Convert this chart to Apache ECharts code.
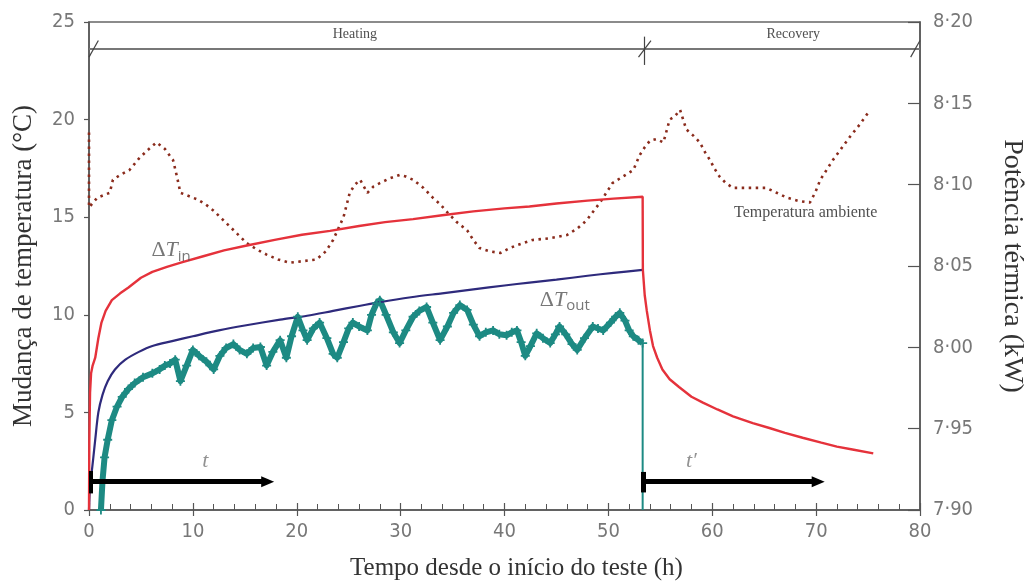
<!DOCTYPE html>
<html>
<head>
<meta charset="utf-8">
<script src="https://cdn.jsdelivr.net/npm/echarts@6/dist/echarts.min.js"></script>
<style>
html,body{margin:0;padding:0;background:#fff;}
#chart{width:1034px;height:587px;}
</style>
</head>
<body>
<div id="chart"></div>
<script>
// ---------- data ----------
const xTicks = [0, 10, 20, 30, 40, 50, 60, 70, 80];
const leftTicks = [0, 5, 10, 15, 20, 25];
const rightTickLabels = ['7·90', '7·95', '8·00', '8·05', '8·10', '8·15', '8·20'];

// ΔT_in (red), heating then recovery
const dTinTime = [0, 0.03, 0.1, 0.2, 0.35, 0.6, 0.9, 1.2, 1.6, 2.2, 3.0, 3.8, 5.0, 6.1, 7.5, 9.0, 11.0, 13.0, 15.2, 18.0, 20.5, 23.2, 26.0, 28.5, 31.2, 34.0, 37.0, 40.0, 42.4, 45.0, 48.0, 50.5, 53.3,
  53.32, 53.5, 53.7, 54.0, 54.3, 54.7, 55.2, 55.9, 56.8, 58.0, 59.1, 60.5, 62.0, 63.9, 65.5, 67.0, 68.7, 70.5, 72.0, 73.5, 75.5];
const dTinValue = [0, 3.5, 6.0, 7.0, 7.4, 7.8, 8.8, 9.6, 10.2, 10.75, 11.1, 11.4, 11.9, 12.2, 12.45, 12.7, 13.0, 13.3, 13.55, 13.85, 14.1, 14.3, 14.55, 14.75, 14.9, 15.1, 15.3, 15.45, 15.55, 15.7, 15.85, 15.95, 16.05,
  12.3, 11.0, 10.2, 9.2, 8.4, 7.8, 7.2, 6.7, 6.3, 5.8, 5.5, 5.15, 4.8, 4.45, 4.2, 3.95, 3.7, 3.45, 3.25, 3.1, 2.9];

// navy curve
const blueTime = [0, 0.1, 0.25, 0.4, 0.6, 0.9, 1.3, 1.8, 2.5, 3.5, 4.8, 6.1, 8.0, 10.0, 12.5, 15.0, 18.4, 21.0, 23.5, 26.0, 28.0, 31.0, 34.0, 37.0, 40.0, 42.4, 45.0, 48.0, 50.5, 53.3];
const blueValue = [0, 1.2, 1.9, 2.6, 3.6, 5.0, 5.9, 6.6, 7.2, 7.7, 8.1, 8.4, 8.65, 8.9, 9.2, 9.45, 9.75, 9.95, 10.2, 10.45, 10.65, 10.9, 11.1, 11.3, 11.5, 11.65, 11.8, 12.0, 12.15, 12.3];

// ΔT_out (teal)
const dToutTime = [1.15, 1.3, 1.5, 1.8, 2.2, 2.7, 3.2, 3.8, 4.4, 5.2, 6.1, 6.8, 7.3, 7.8, 8.3, 8.8, 9.4, 10.0, 10.6, 11.3, 12.0, 12.6, 13.2, 13.9, 14.5, 15.2, 15.8, 16.5, 17.1, 17.7, 18.4, 19.0, 19.5, 20.1, 20.6, 21.0, 21.6, 22.2, 22.9, 23.5, 23.9, 24.5, 25.0, 25.4, 26.0, 26.8, 27.2, 27.7, 28.0, 28.6, 29.3, 29.9, 30.5, 31.2, 31.8, 32.5, 33.1, 33.8, 34.5, 35.1, 35.7, 36.4, 37.0, 37.6, 38.2, 38.9, 39.5, 40.2, 40.7, 41.2, 41.6, 42.0, 42.5, 43.1, 43.7, 44.4, 44.9, 45.3, 45.9, 46.5, 47.0, 47.7, 48.5, 49.0, 49.5, 50.2, 50.7, 51.1, 51.6, 52.0, 52.4, 52.9, 53.3];
const dToutValue = [0, 1.5, 2.7, 3.6, 4.6, 5.3, 5.8, 6.2, 6.5, 6.8, 7.0, 7.2, 7.4, 7.5, 7.7, 6.6, 7.4, 8.2, 7.9, 7.6, 7.2, 7.9, 8.3, 8.5, 8.2, 8.0, 8.3, 8.35, 7.4, 8.1, 8.7, 7.8, 8.9, 9.9, 9.2, 8.7, 9.3, 9.6, 8.8, 8.0, 7.8, 8.6, 9.3, 9.6, 9.4, 9.2, 10.0, 10.6, 10.75, 10.0, 9.1, 8.55, 9.2, 9.9, 10.2, 10.4, 9.6, 8.7, 9.4, 10.1, 10.5, 10.25, 9.5, 8.9, 9.1, 9.2, 9.0, 8.95, 9.1, 9.2, 8.6, 7.9, 8.4, 9.05, 8.8, 8.55, 9.0, 9.4, 9.0, 8.5, 8.2, 8.8, 9.4, 9.3, 9.2, 9.6, 9.9, 10.1, 9.7, 9.2, 8.9, 8.7, 8.55];
const dToutDropTime = [53.3, 53.3];
const dToutDropValue = [8.55, 0];

// ambient temperature / thermal power (right axis, kW)
const ambTime = [0, 0, 0.8, 2.0, 2.3, 3.0, 3.9, 4.8, 5.6, 6.5, 7.3, 8.1, 8.5, 8.8, 9.6, 10.4, 11.2, 12.0, 12.8, 13.6, 14.4, 15.2, 16.2, 17.1, 18.2, 19.3, 20.6, 21.9, 22.8, 23.5, 24.0, 24.5, 25.1, 25.6, 26.1, 26.8, 27.4, 28.0, 29.0, 29.9, 30.5, 31.2, 32.2, 33.1, 33.8, 34.5, 35.4, 36.4, 37.0, 37.6, 38.6, 39.6, 40.5, 41.3, 42.7, 44.3, 46.0, 47.0, 47.9, 48.6, 49.2, 49.8, 50.4, 51.4, 52.4, 53.0, 53.5, 54.0, 54.6, 55.3, 55.9, 56.4, 56.9, 57.5, 58.2, 58.8, 59.3, 59.8, 60.2, 60.7, 61.3, 62.0, 63.5, 65.2, 66.2, 67.2, 68.3, 69.4, 69.9, 70.4, 71.0, 71.6, 72.4, 73.2, 74.2, 75.2];
const ambValue = [8.132, 8.086, 8.092, 8.095, 8.103, 8.106, 8.109, 8.116, 8.121, 8.126, 8.122, 8.115, 8.104, 8.095, 8.093, 8.091, 8.088, 8.084, 8.079, 8.074, 8.069, 8.064, 8.060, 8.057, 8.054, 8.052, 8.053, 8.054, 8.059, 8.066, 8.073, 8.080, 8.095, 8.100, 8.103, 8.095, 8.099, 8.101, 8.104, 8.106, 8.105, 8.103, 8.098, 8.092, 8.088, 8.083, 8.077, 8.072, 8.066, 8.061, 8.059, 8.058, 8.061, 8.063, 8.066, 8.067, 8.069, 8.073, 8.078, 8.084, 8.089, 8.095, 8.101, 8.105, 8.109, 8.118, 8.123, 8.127, 8.128, 8.126, 8.140, 8.142, 8.146, 8.134, 8.130, 8.126, 8.120, 8.115, 8.110, 8.105, 8.101, 8.098, 8.098, 8.098, 8.095, 8.092, 8.090, 8.089, 8.095, 8.103, 8.109, 8.115, 8.122, 8.129, 8.137, 8.146];

// phase boundaries (h)
const heatStart = 0, heatEnd = 53.3, recoveryEnd = 80;
const arrowT = [[0, 17.2], [53.3, 70.2]];

// ---------- helpers ----------
const zip = (a, b) => a.map((v, i) => [v, b[i]]);
const tickFont = "'Liberation Sans Narrow', 'DejaVu Sans Condensed', 'Open Sans', sans-serif";
const serif = "'Liberation Serif', 'DejaVu Serif', serif";
const plusPath = 'path://M4,0H6V4H10V6H6V10H4V6H0V4H4Z';

const seg = (a, b, style) => [Object.assign({coord: a, symbol: 'none'}, style ? {lineStyle: style} : {}), {coord: b, symbol: 'none'}];
const thin = {color: '#444', width: 1.2, type: 'solid'};
const slashFrom = (t0, t1) => seg([t0, 23.2], [t1, 24.05], thin);

const chart = echarts.init(document.getElementById('chart'), null, {renderer: 'canvas'});
chart.setOption({
  animation: false,
  backgroundColor: '#fff',
  grid: {left: 89, right: 114, top: 22, bottom: 77, show: true, borderColor: '#666', borderWidth: 1.5, backgroundColor: 'transparent'},
  xAxis: [{
    type: 'value', min: xTicks[0], max: xTicks[xTicks.length - 1], interval: 10,
    name: 'Tempo desde o início do teste (h)', nameLocation: 'middle', nameGap: 46,
    nameTextStyle: {fontFamily: serif, fontSize: 25, color: '#333', padding: [0, 0, 0, 24]},
    axisLine: {onZero: false, lineStyle: {color: '#555', width: 1.5}},
    axisTick: {inside: true, length: 7, lineStyle: {color: '#555', width: 1.2}},
    minorTick: {show: true, splitNumber: 5, length: 6, lineStyle: {color: '#555', width: 1}},
    axisLabel: {fontFamily: tickFont, fontSize: 20, color: '#777', margin: 12},
    splitLine: {show: false}
  }, {
    type: 'value', min: xTicks[0], max: xTicks[xTicks.length - 1], interval: 10, position: 'bottom',
    axisLine: {show: false, onZero: false}, axisLabel: {show: false}, splitLine: {show: false},
    axisTick: {show: true, inside: false, length: 6, lineStyle: {color: '#555', width: 1.2}}
  }],
  yAxis: [{
    type: 'value', min: leftTicks[0], max: leftTicks[leftTicks.length - 1], interval: 5, position: 'left',
    name: 'Mudança de temperatura (°C)', nameLocation: 'middle', nameGap: 52,
    nameTextStyle: {fontFamily: serif, fontSize: 27, color: '#333'},
    axisLine: {show: true, onZero: false, lineStyle: {color: '#555', width: 1.5}},
    axisTick: {show: true, inside: false, length: 5, lineStyle: {color: '#555', width: 1.2}},
    axisLabel: {fontFamily: tickFont, fontSize: 20, color: '#777', margin: 14},
    splitLine: {show: false}
  }, {
    type: 'value', min: 7.9, max: 8.2, interval: 0.05, position: 'right',
    name: 'Potência térmica (kW)', nameLocation: 'middle', nameGap: 78, nameRotate: -90,
    nameTextStyle: {fontFamily: serif, fontSize: 28, color: '#333'},
    axisLine: {show: true, onZero: false, lineStyle: {color: '#555', width: 1.5}},
    axisTick: {show: true, inside: true, length: 12, lineStyle: {color: '#555', width: 1.2}},
    axisLabel: {fontFamily: tickFont, fontSize: 20, color: '#777', margin: 13,
      formatter: (v) => rightTickLabels[Math.round((v - 7.9) / 0.05)] || ''},
    splitLine: {show: false}
  }],
  series: [
    {
      name: 'Temperatura ambiente', type: 'line', yAxisIndex: 1, data: zip(ambTime, ambValue),
      showSymbol: false, silent: true,
      lineStyle: {color: '#8a2b1c', width: 2.6, type: [2.5, 4.5], cap: 'butt'}
    },
    {
      name: 'ΔT out', type: 'line', data: zip(dToutTime, dToutValue),
      showSymbol: true, symbol: plusPath, symbolSize: 9, silent: true,
      itemStyle: {color: '#1d8a83'},
      lineStyle: {color: '#1d8a83', width: 6, join: 'round'}
    },
    {
      name: 'ΔT out drop', type: 'line', data: zip(dToutDropTime, dToutDropValue),
      showSymbol: false, silent: true,
      lineStyle: {color: '#1d8a83', width: 2}
    },
    {
      name: 'blue', type: 'line', data: zip(blueTime, blueValue),
      showSymbol: false, silent: true, smooth: 0.3,
      lineStyle: {color: '#2e2a7c', width: 2.2}
    },
    {
      name: 'ΔT in', type: 'line', data: zip(dTinTime, dTinValue),
      showSymbol: false, silent: true,
      lineStyle: {color: '#e5323b', width: 2.4},
      markLine: {
        silent: true, animation: false, label: {show: false},
        data: [
          // top phase dimension line
          seg([heatStart, 23.65], [recoveryEnd, 23.65], {color: '#777', width: 1.8, type: 'solid'}),
          slashFrom(heatStart, heatStart + 0.9),
          slashFrom(heatEnd - 0.4, heatEnd + 0.8),
          seg([heatEnd + 0.2, 22.8], [heatEnd + 0.2, 24.25], thin),
          slashFrom(recoveryEnd - 0.9, recoveryEnd),
          // time arrows
          [{coord: [arrowT[0][0], 1.45], symbol: 'none', lineStyle: {color: '#000', width: 5, type: 'solid'}},
           {coord: [arrowT[0][1], 1.45], symbol: 'triangle', symbolSize: [11, 13], symbolRotate: -90}],
          [{coord: [arrowT[1][0], 1.45], symbol: 'none', lineStyle: {color: '#000', width: 5, type: 'solid'}},
           {coord: [arrowT[1][1], 1.45], symbol: 'triangle', symbolSize: [11, 13], symbolRotate: -90}],
          seg([arrowT[0][0] + 0.15, 0.85], [arrowT[0][0] + 0.15, 2.0], {color: '#000', width: 4, type: 'solid'}),
          seg([arrowT[1][0] + 0.1, 0.9], [arrowT[1][0] + 0.1, 1.95], {color: '#000', width: 5, type: 'solid'})
        ]
      }
    },
    {
      name: 'labels', type: 'scatter', symbolSize: 0, silent: true, z: 10,
      data: [
        {value: [25.6, 24.35], label: {show: true, formatter: 'Heating', fontFamily: serif, fontSize: 14, color: '#222', position: 'inside'}},
        {value: [67.8, 24.35], label: {show: true, formatter: 'Recovery', fontFamily: serif, fontSize: 14, color: '#222', position: 'inside'}},
        {value: [69.0, 15.2], label: {show: true, formatter: 'Temperatura ambiente', fontFamily: serif, fontSize: 16, color: '#222', position: 'inside'}},
        {value: [11.2, 2.5], label: {show: true, formatter: 't', fontFamily: serif, fontStyle: 'italic', fontSize: 22, color: '#777', position: 'inside'}},
        {value: [58.0, 2.5], label: {show: true, formatter: 't′', fontFamily: serif, fontStyle: 'italic', fontSize: 22, color: '#777', position: 'inside'}},
        {value: [7.9, 13.3], label: {show: true, formatter: '{d|Δ}{t|T}{s|in}', position: 'inside',
          rich: {d: {fontFamily: serif, fontSize: 22, color: '#555'}, t: {fontFamily: serif, fontStyle: 'italic', fontSize: 22, color: '#555'},
                 s: {fontFamily: "'Open Sans', sans-serif", fontSize: 15, color: '#555', padding: [12, 0, 0, 0]}}}},
        {value: [45.8, 10.75], label: {show: true, formatter: '{d|Δ}{t|T}{s|out}', position: 'inside',
          rich: {d: {fontFamily: serif, fontSize: 22, color: '#555'}, t: {fontFamily: serif, fontStyle: 'italic', fontSize: 22, color: '#555'},
                 s: {fontFamily: "'Open Sans', sans-serif", fontSize: 15, color: '#555', padding: [12, 0, 0, 0]}}}}
      ]
    }
  ]
});
</script>
</body>
</html>
